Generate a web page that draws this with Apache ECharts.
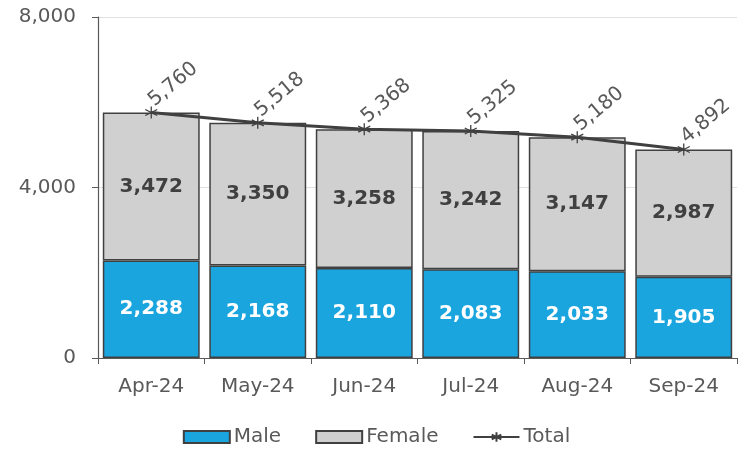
<!DOCTYPE html>
<html><head><meta charset="utf-8">
<script src="https://cdn.jsdelivr.net/npm/echarts@6/dist/echarts.min.js"></script>
<style>html,body{margin:0;padding:0;background:#fff}#c{width:753px;height:452px}</style>
</head><body><div id="c"></div>
<script>
var categories = ['Apr-24','May-24','Jun-24','Jul-24','Aug-24','Sep-24'];
var male = [2288,2168,2110,2083,2033,1905];
var female = [3472,3350,3258,3242,3147,2987];
var total = [5760,5518,5368,5325,5180,4892];
var yTicks = [0,4000,8000];

var FONT = '"DejaVu Sans", sans-serif';
var star = 'path://M0 -6 L0 6 M-5.2 -3 L5.2 3 M-5.2 3 L5.2 -3';
var chart = echarts.init(document.getElementById('c'));
function fmt(v){ return v.toLocaleString('en-US'); }
chart.setOption({
  animation:false,
  textStyle:{fontFamily:FONT},
  grid:{left:98,right:16,top:17,bottom:94},
  legend:{
    bottom:0, left:'center', itemGap:34, itemWidth:46, itemHeight:12,
    textStyle:{fontFamily:FONT,fontSize:20,color:'#595959',padding:[0,0,0,-1]},
    data:[{name:'Male',icon:'rect'},{name:'Female',icon:'rect'},{name:'Total'}]
  },
  xAxis:{
    type:'category', data:categories,
    axisLine:{lineStyle:{color:'#595959',width:1.2}},
    axisTick:{show:true,length:6,lineStyle:{color:'#595959'}},
    axisLabel:{fontFamily:FONT,fontSize:20,color:'#595959',margin:19}
  },
  yAxis:{
    type:'value', min:yTicks[0], max:yTicks[yTicks.length-1], interval:4000,
    axisLine:{show:true,lineStyle:{color:'#595959',width:1.2}},
    axisTick:{show:true,length:6,lineStyle:{color:'#595959'}},
    splitLine:{lineStyle:{color:'#e0e0e0'}},
    axisLabel:{fontFamily:FONT,fontSize:20,color:'#595959',margin:22,formatter:function(v){return fmt(v);}}
  },
  series:[
    {name:'Male',type:'bar',stack:'s',data:male,barCategoryGap:'9%',
     itemStyle:{color:'#1ba5df',borderColor:'#404040',borderWidth:1.5},
     label:{show:true,position:'inside',color:'#fff',fontWeight:'bold',fontSize:20,fontFamily:FONT,formatter:function(p){return fmt(p.value);}}},
    {name:'Female',type:'bar',stack:'s',data:female,barCategoryGap:'9%',
     itemStyle:{color:'#d0d0d0',borderColor:'#404040',borderWidth:1.5},
     label:{show:true,position:'inside',color:'#404040',fontWeight:'bold',fontSize:20,fontFamily:FONT,formatter:function(p){return fmt(p.value);}}},
    {name:'Total',type:'line',data:total,symbol:star,symbolSize:12,
     lineStyle:{color:'#404040',width:3},
     itemStyle:{color:'#404040',borderColor:'#404040',borderWidth:1.3},
     label:{show:true,position:'top',distance:3,rotate:40,align:'left',verticalAlign:'middle',
       color:'#595959',fontSize:20,fontFamily:FONT,formatter:function(p){return fmt(p.value);}}}
  ]
});
</script></body></html>
